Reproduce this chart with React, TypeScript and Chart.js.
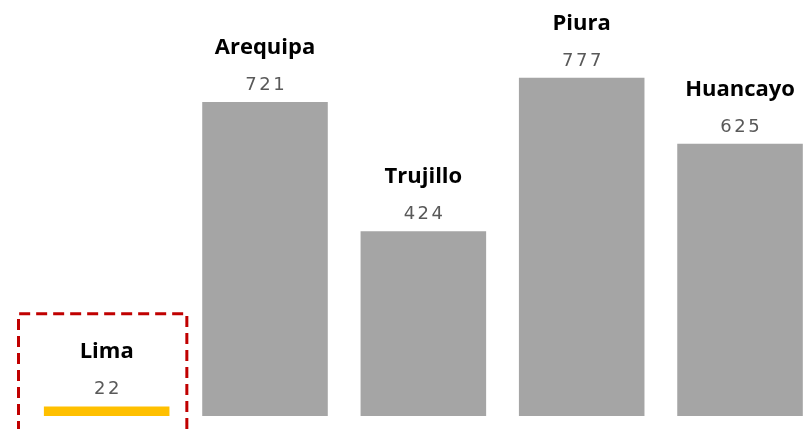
import React, { useEffect, useRef } from "react";
import { Chart, registerables } from "chart.js";

Chart.register(...registerables);

const cities = ["Lima", "Arequipa", "Trujillo", "Piura", "Huancayo"];
const values = [22, 721, 424, 777, 625];
const barColors = ["#FFC000", "#A5A5A5", "#A5A5A5", "#A5A5A5", "#A5A5A5"];
const highlightIndex = 0;

const labelsPlugin = {
  id: "cityLabels",
  afterDatasetsDraw(chart: any) {
    const { ctx } = chart;
    const meta = chart.getDatasetMeta(0);
    const xScale = chart.scales.x;
    const yScale = chart.scales.y;
    ctx.save();
    meta.data.forEach((bar: any, i: number) => {
      const x = bar.x;
      const top = bar.y;
      ctx.textAlign = "center";
      ctx.textBaseline = "alphabetic";
      // value
      ctx.fillStyle = "#595959";
      ctx.font = "18px 'DejaVu Sans', sans-serif";
      (ctx as any).letterSpacing = "2.5px";
      ctx.fillText(String(values[i]), x + 1.25, top - 12);
      // city name
      (ctx as any).letterSpacing = "0px";
      ctx.fillStyle = "#000000";
      ctx.font = "bold 22px 'Open Sans'";
      ctx.fillText(cities[i], x, top - 48);
    });
    // dashed highlight box around first category
    const hb = meta.data[highlightIndex];
    const half = (xScale.width / cities.length) / 2;
    const left = hb.x - half - 9;
    const right = hb.x + half + 1;
    const topY = yScale.getPixelForValue(235);
    const bottomY = chart.height + 20;
    ctx.strokeStyle = "#C00000";
    ctx.lineWidth = 3;
    ctx.setLineDash([11, 6]);
    ctx.beginPath();
    ctx.moveTo(left, bottomY);
    ctx.lineTo(left, topY);
    ctx.lineTo(right, topY);
    ctx.lineTo(right, bottomY);
    ctx.stroke();
    ctx.restore();
  },
};

export default function App() {
  const ref = useRef<HTMLCanvasElement | null>(null);
  useEffect(() => {
    if (!ref.current) return;
    const chart = new Chart(ref.current, {
      type: "bar",
      data: {
        labels: cities,
        datasets: [
          {
            data: values,
            backgroundColor: barColors,
            borderWidth: 0,
            barPercentage: 0.793,
            categoryPercentage: 1,
          },
        ],
      },
      options: {
        responsive: false,
        animation: false,
        layout: { padding: { left: 27.5, right: 10.8, top: 2.3, bottom: 13 } },
        plugins: { legend: { display: false }, tooltip: { enabled: false } },
        scales: {
          x: { display: false },
          y: { display: false, min: 0, max: 950 },
        },
      },
      plugins: [labelsPlugin],
    });
    return () => chart.destroy();
  }, []);
  return (
    <div
      style={{
        position: "absolute",
        left: 0,
        top: 0,
        width: 811,
        height: 429,
        overflow: "hidden",
        background: "#ffffff",
      }}
    >
      <canvas ref={ref} width={830} height={429} style={{ display: "block", width: 830, height: 429 }} />
    </div>
  );
}
